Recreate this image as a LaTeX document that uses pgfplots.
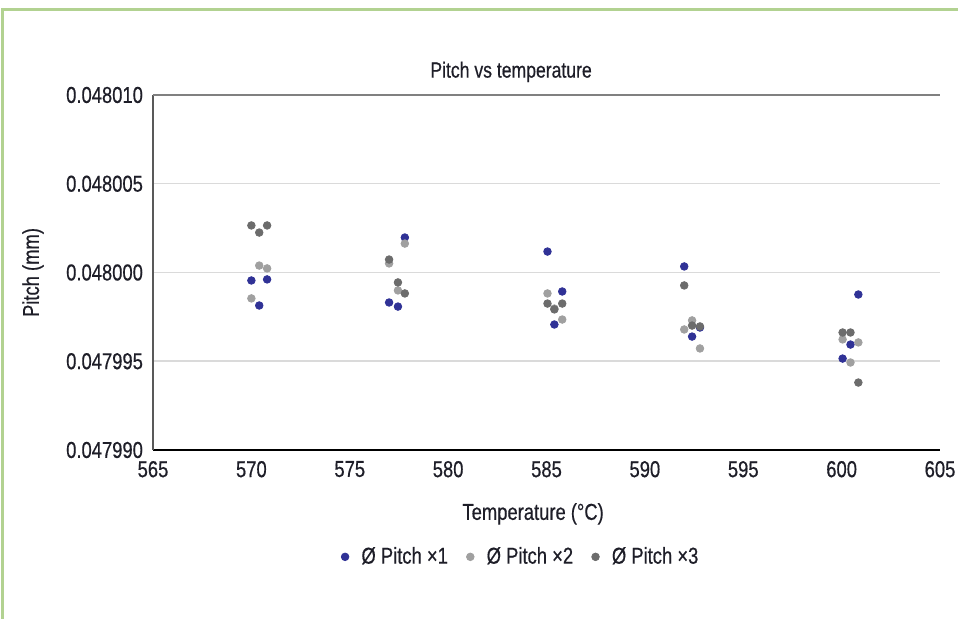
\documentclass[border=0pt]{standalone}
\usepackage{pgfplots}
\pgfplotsset{compat=1.18}
\usepackage{fontspec}
\setmainfont{Liberation Sans}[FakeStretch=0.8, FakeBold=0.5]
\definecolor{pblue}{RGB}{48,50,150}
\definecolor{plight}{RGB}{160,160,160}
\definecolor{pdark}{RGB}{108,108,108}
\definecolor{gridc}{RGB}{218,218,218}
\definecolor{frameg}{RGB}{178,210,145}
\definecolor{txt}{RGB}{30,30,40}
% y values: (pitch - 0.048000 mm) x 10^6, i.e. in units of 1e-6 mm
\pgfplotstableread{
x y
570.0 -0.45
570.4 -1.86
570.8 -0.39
577.0 -1.69
577.45 -1.92
577.8 1.97
585.05 1.18
585.4 -2.93
585.8 -1.07
592.0 0.34
592.4 -3.61
592.8 -3.10
600.05 -4.85
600.45 -4.06
600.85 -1.24
}\tabA
\pgfplotstableread{
x y
570.0 -1.46
570.4 0.39
570.8 0.23
577.0 0.51
577.45 -1.01
577.8 1.63
585.05 -1.18
585.4 -2.03
585.8 -2.65
592.0 -3.21
592.4 -2.70
592.8 -4.28
600.05 -3.77
600.45 -5.07
600.85 -3.94
}\tabB
\pgfplotstableread{
x y
570.0 2.65
570.4 2.25
570.8 2.65
577.0 0.73
577.45 -0.56
577.8 -1.18
585.05 -1.75
585.4 -2.08
585.8 -1.75
592.0 -0.73
592.4 -2.99
592.8 -3.04
600.05 -3.38
600.45 -3.38
600.85 -6.20
}\tabC
\begin{document}
\begin{tikzpicture}
\useasboundingbox (-76.5pt,-84.5pt) rectangle (402.5pt,225pt);
\draw[frameg, line width=1.5pt] (-75pt,-90pt) -- (-75pt,220pt) -- (410pt,220pt);
\begin{axis}[
  at={(0,0)}, anchor=south west,
  scale only axis,
  width=393.5pt, height=177.5pt,
  xmin=565, xmax=605, ymin=-10, ymax=10,
  axis lines=left,
  axis line style={-},
  x axis line style={black, line width=0.8pt},
  y axis line style={black!65, line width=0.8pt},
  xtick={565,570,...,605},
  ytick={-10,-5,0,5},
  yticklabels={0.047990,0.047995,0.048000,0.048005},
  extra y ticks={10},
  extra y tick labels={0.048010},
  extra y tick style={grid style={color=black!50, line width=1pt}},
  ymajorgrids,
  grid style={gridc, line width=0.75pt},
  major tick length=0pt,
  /pgf/number format/assume math mode=true,
  /pgf/number format/1000 sep={},
  font=\fontsize{11.5}{13}\selectfont,
  text=txt,
  tick label style={font=\fontsize{11.5}{13}\selectfont},
  yticklabel style={xshift=-1.5pt},
  xticklabel style={yshift=-2pt},
  every axis title shift=0pt,
  title={Pitch vs temperature},
  title style={at={(axis description cs:0.455,1.065)}, anchor=center, font=\fontsize{11}{12}\selectfont},
  xlabel={Temperature (°C)},
  xlabel style={at={(axis description cs:0.483,-0.18)}, anchor=center},
  ylabel={Pitch (mm)},
  ylabel style={at={(axis description cs:-0.1525,0.5)}, anchor=center, rotate=0},
  legend columns=3,
  legend style={at={(axis description cs:0.467,-0.301)}, anchor=center, draw=none, fill=none,
    font=\fontsize{11.5}{13}\selectfont, text=txt,
    /tikz/every even column/.append style={column sep=6pt}},
  legend image code/.code={\path (0pt,0pt) (9pt,0pt); \draw[#1] plot coordinates {(3pt,0pt)};},
]
\addplot[only marks, mark=*, mark size=1.9pt, color=pblue, mark options={draw=none, fill=pblue}] table[x=x,y=y] {\tabA};
\addlegendentry{Ø Pitch ×1}
\addplot[only marks, mark=*, mark size=1.9pt, color=plight, mark options={draw=none, fill=plight}] table[x=x,y=y] {\tabB};
\addlegendentry{Ø Pitch ×2\hspace{3.5pt}}
\addplot[only marks, mark=*, mark size=1.9pt, color=pdark, mark options={draw=none, fill=pdark}] table[x=x,y=y] {\tabC};
\addlegendentry{Ø Pitch ×3}
\end{axis}
\end{tikzpicture}
\end{document}
